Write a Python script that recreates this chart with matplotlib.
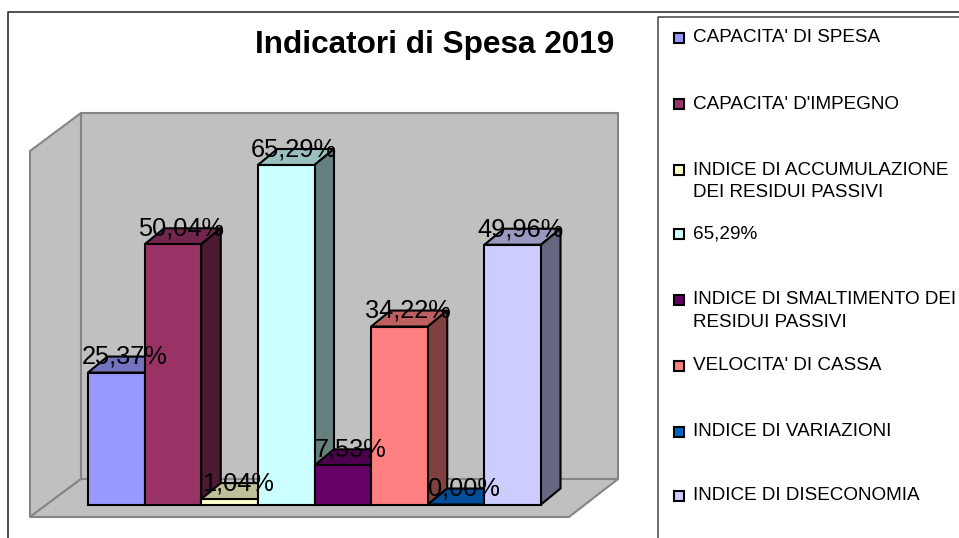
import matplotlib
matplotlib.use("Agg")
import matplotlib.pyplot as plt
from matplotlib.patches import Polygon
from matplotlib.transforms import IdentityTransform
from matplotlib.colors import to_rgb

plt.rcParams['font.family'] = ['Liberation Sans', 'DejaVu Sans']

categories = ["CAPACITA' DI SPESA", "CAPACITA' D'IMPEGNO",
              "INDICE DI ACCUMULAZIONE\nDEI RESIDUI PASSIVI", "65,29%",
              "INDICE DI SMALTIMENTO DEI\nRESIDUI PASSIVI", "VELOCITA' DI CASSA",
              "INDICE DI VARIAZIONI", "INDICE DI DISECONOMIA"]
values = [25.37, 50.04, 1.04, 65.29, 7.53, 34.22, 0.00, 49.96]
value_labels = ["25,37%", "50,04%", "1,04%", "65,29%", "7,53%", "34,22%", "0,00%", "49,96%"]
colors = ["#9999FF", "#993366", "#FFFFCC", "#CCFFFF", "#660066", "#FF8080", "#0066CC", "#CCCCFF"]
title = "Indicatori di Spesa 2019"

W, H = 959, 538
fig = plt.figure(figsize=(W / 100, H / 100), dpi=100, facecolor="white")

# page furniture in pixel coordinates
bg = fig.add_axes([0, 0, 1, 1], zorder=0)
bg.set_xlim(0, W); bg.set_ylim(H, 0); bg.axis("off")
bg.plot([8, 8, W], [H, 11.5, 11.5], color="#222222", lw=1.1)
bg.plot([658, 658, W], [H, 16.5, 16.5], color="#444444", lw=1.1)
wall = dict(facecolor="#C0C0C0", edgecolor="#858585", lw=1.5)
bg.add_patch(Polygon([(30, 151), (81, 113), (81, 479), (30, 517)], **wall))
bg.add_patch(Polygon([(81, 113), (618, 113), (618, 479), (81, 479)], **wall))
bg.add_patch(Polygon([(30, 517), (81, 479), (618, 479), (569, 517)], **wall))
bg.text(434.5, 45.5, title, fontsize=22.7, fontweight="bold", ha="center", va="center", color="black")

# bars: value scale 5.2 px per percent
ax = fig.add_axes([88 / W, (H - 504.5) / H, 453 / W, 391.5 / H], zorder=1)
ax.set_xlim(-0.5, 7.5); ax.set_ylim(0, 391.5 / 5.2); ax.axis("off")

DX, DY = 19.5, 16
shade = lambda c, k: tuple(k * v for v in to_rgb(c))
fig.canvas.draw()
for i, (v, c) in enumerate(zip(values, colors)):
    (x0, y0), (x1, y1) = ax.transData.transform([(i - 0.5, 0), (i + 0.5, v)])
    z = 2 + i * 3
    top = [(x0, y1), (x1, y1), (x1 + DX, y1 + DY), (x0 + DX, y1 + DY)]
    side = [(x1, y0), (x1, y1), (x1 + DX, y1 + DY), (x1 + DX, y0 + DY)]
    ax.add_patch(Polygon(top, transform=IdentityTransform(), fc=shade(c, .75), ec="black", lw=1.5, zorder=z, clip_on=False))
    ax.add_patch(Polygon(side, transform=IdentityTransform(), fc=shade(c, .5), ec="black", lw=1.5, zorder=z + 1, clip_on=False))
    ax.bar(i, v, width=1, color=c, edgecolor="black", lw=1.5, zorder=z + 2, clip_on=False)
for i, (v, s) in enumerate(zip(values, value_labels)):
    ax.annotate(s, (i, v), xytext=(5.8, 11.3), textcoords="offset points", ha="center", va="center",
                fontsize=18.3, color="black", zorder=60, annotation_clip=False)

# legend
marker_y = [38, 104, 170, 234, 300, 366, 432, 496]
text_y = [37.5, 104.5, 181.5, 234, 311, 366, 431.5, 495.5]
for c, name, my, ty in zip(colors, categories, marker_y, text_y):
    bg.plot([679], [my], marker="s", ms=7.6, mfc=c, mec="black", mew=1.5, ls="none")
    bg.text(693, ty, name, fontsize=13.6, va="center", ha="left", color="black", linespacing=1.4)

fig.savefig("out.png", dpi=100)
